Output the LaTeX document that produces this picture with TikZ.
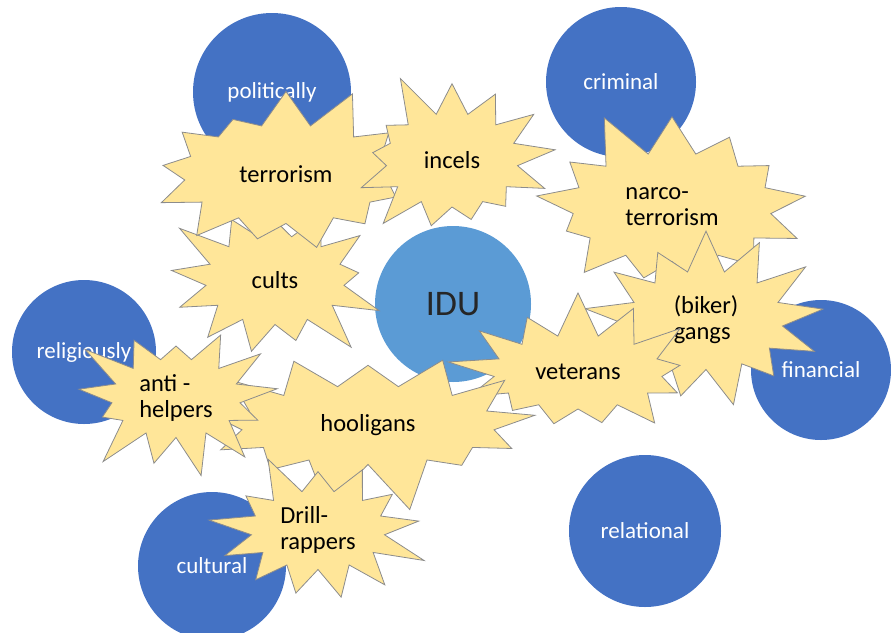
\documentclass[tikz,border=0pt]{standalone}
\usepackage{fontspec}
\setmainfont{Carlito}
\usetikzlibrary{shapes.symbols}
\definecolor{zoneblue}{HTML}{4472C4}
\definecolor{idublue}{HTML}{5B9BD5}
\definecolor{burstfill}{HTML}{FFE699}
\definecolor{burstline}{HTML}{8C8C8C}
\tikzset{
  zone/.style={circle,fill=zoneblue,text=white,inner sep=0pt,
    font=\fontsize{23}{26}\selectfont},
  burst/.style={starburst,fill=burstfill,draw=burstline,line width=0.8pt,
    starburst points=13,starburst point height=48pt,align=left,
    inner sep=1pt,font=\fontsize{24.5}{26}\selectfont}
}
\begin{document}
\begin{tikzpicture}[x=1pt,y=-1pt]
  \useasboundingbox (0,0) rectangle (891,632);
  % circles
  \node[zone,minimum size=158pt] (political) at (272,92) {politically};
  \node[zone,minimum size=150pt] (criminal) at (621,82) {criminal};
  \node[zone,minimum size=144pt] (religious) at (84,352) {religiously};
  \node[zone,minimum size=140pt] (financial) at (821,370) {financial};
  \node[zone,minimum size=148pt] (cultural) at (212,566) {cultural};
  \node[zone,minimum size=152pt] (relational) at (645,531) {relational};
  \node[zone,fill=idublue,text=black!85,minimum size=156pt,
    font=\fontsize{36}{40}\selectfont] (idu) at (453,304) {IDU};
  % bursts
  \node[burst,minimum width=235pt,minimum height=185pt,random starburst=3] (cults) at (275,280) {cults};
  \node[burst,minimum width=300pt,minimum height=195pt,random starburst=31] (terror) at (286,174) {terrorism};
  \node[burst,minimum width=228pt,minimum height=190pt,random starburst=5] (incels) at (452,160) {incels};
  \node[burst,minimum width=295pt,minimum height=205pt,random starburst=11] (narco) at (672,207) {narco-\\terrorism};
  \node[burst,minimum width=250pt,minimum height=195pt,random starburst=37] (gangs) at (706,320) {(biker)\\gangs};
  \node[burst,minimum width=265pt,minimum height=170pt,random starburst=17] (veterans) at (578,372) {veterans};
  \node[burst,minimum width=350pt,minimum height=175pt,random starburst=19] (hooligans) at (368,425) {hooligans};
  \node[burst,minimum width=225pt,minimum height=175pt,random starburst=23] (antihelp) at (176,398) {anti -\\helpers};
  \node[burst,minimum width=230pt,minimum height=175pt,random starburst=29] (drill) at (318,530) {Drill-\\rappers};
\end{tikzpicture}
\end{document}
